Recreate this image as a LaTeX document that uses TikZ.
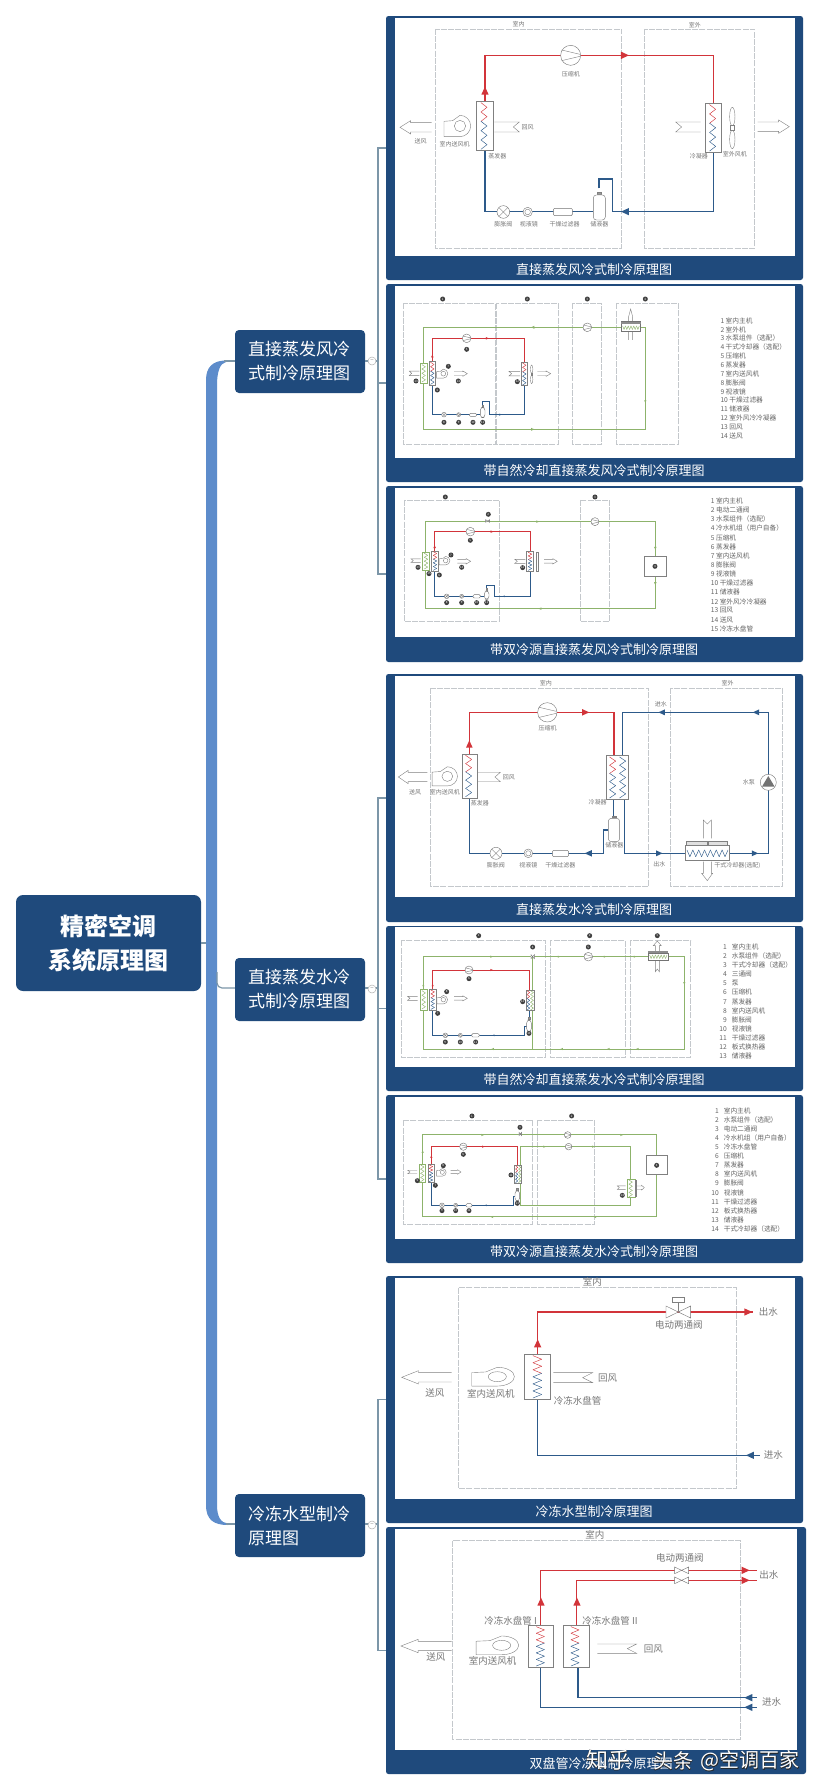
\documentclass[tikz,border=0pt]{standalone}
\usepackage{fontspec}
\setmainfont{Noto Sans CJK SC}
\newfontfamily\wmfat[FakeBold=2.5]{Noto Sans CJK SC}
\definecolor{navy}{HTML}{1F4A7C}
\definecolor{spine}{HTML}{5D8CCB}
\definecolor{twig}{HTML}{7C96A8}
\definecolor{redp}{HTML}{D2343A}
\definecolor{bluep}{HTML}{2D5A8A}
\definecolor{greenp}{HTML}{8DB36B}
\definecolor{txt}{HTML}{777777}
\definecolor{dsh}{HTML}{C4C8CC}
\newcounter{lb}
\tikzset{
  panelbox/.style={fill=navy,rounded corners=2.5pt,inner sep=0pt},
  rootbox/.style={fill=navy,rounded corners=7pt,text=white,align=center,inner sep=0pt,minimum width=185pt,minimum height=96pt,font=\fontsize{24}{34}\selectfont\bfseries},
  branchbox/.style={fill=navy,rounded corners=4pt,text=white,align=left,inner sep=0pt,minimum width=130pt,minimum height=63pt,text width=104pt,font=\fontsize{17}{24}\selectfont},
  twigline/.style={draw=twig,line width=1.2pt},
  titletext/.style={text=white,inner sep=0pt,font=\fontsize{13}{13}\selectfont},
  dashbox/.style={draw=dsh,line width=.6pt,dash pattern=on 6pt off 1.2pt},
  grayl/.style={draw=black!50,line width=.4pt},
  compo/.style={draw=black!55,line width=.4pt,fill=white},
  lbltext/.style={text=txt,inner sep=0pt,font=\fontsize{6}{6}\selectfont},
  lglbl/.style={text=txt,inner sep=0pt,font=\fontsize{9.5}{9.5}\selectfont},
  legtext/.style={text=txt!85!black,inner sep=0pt,anchor=west,font=\fontsize{6.7}{6.7}\selectfont},
  numdot/.style={circle,fill=black!75,text=white,inner sep=0pt,minimum size=5pt,font=\fontsize{3}{3}\selectfont},
  pipeR/.style={draw=redp,line width=#1},
  pipeB/.style={draw=bluep,line width=#1},
  pipeG/.style={draw=greenp,line width=#1},
  collapse/.style={circle,draw=black!30,fill=white,line width=.5pt,inner sep=0pt,minimum size=8pt,font=\fontsize{6}{6}\selectfont,text=black!50},
}
\newcommand\lbl[3]{\stepcounter{lb}\node[lbltext] (l\arabic{lb}) at (#1,#2) {#3};}
\newcommand\lgl[3]{\stepcounter{lb}\node[lglbl] (l\arabic{lb}) at (#1,#2) {#3};}
\newcommand\nm[3]{\stepcounter{lb}\node[numdot] (l\arabic{lb}) at (#1,#2) {#3};}
\newcommand\tri[5]{\begin{scope}[shift={(#1,#2)},rotate=#3,scale=#5]\fill[#4] (12,0)--(-12,-11)--(-12,11)--cycle;\end{scope}}
\newcommand\zig[7]{%
  \pgfmathsetmacro\dy{(#3-#2)/(2*#5)}%
  \pgfmathtruncatemacro\nn{2*#5}%
  \foreach \i in {1,...,\nn}{%
    \pgfmathsetmacro\ya{#2+(\i-1)*\dy}%
    \pgfmathsetmacro\yb{#2+\i*\dy}%
    \pgfmathsetmacro\xa{#1+#4*cos(180*\i)}%
    \pgfmathsetmacro\xb{#1-#4*cos(180*\i)}%
    \pgfmathtruncatemacro\tp{\i<=0.45*\nn?1:0}%
    \ifnum\tp=1 \def\cc{#6}\else\def\cc{#7}\fi
    \draw[color=\cc,line width=.45pt,line cap=round] (\xa,\ya)--(\xb,\yb);
  }}
\newcommand\hzig[6]{%
  \pgfmathsetmacro\dy{(#3-#2)/(2*#5)}%
  \pgfmathtruncatemacro\nn{2*#5}%
  \foreach \i in {1,...,\nn}{%
    \pgfmathsetmacro\ya{#2+(\i-1)*\dy}%
    \pgfmathsetmacro\yb{#2+\i*\dy}%
    \pgfmathsetmacro\xa{#1+#4*cos(180*\i)}%
    \pgfmathsetmacro\xb{#1-#4*cos(180*\i)}%
    \draw[color=#6,line width=.45pt,line cap=round] (\ya,\xa)--(\yb,\xb);
  }}
\newcommand\blower[4]{\begin{scope}[shift={(#1,#2)},xscale=#3,yscale=#4]
  \draw[grayl,fill=white] (-48,-14)--(-48,32)--(0,32) arc[start angle=90,end angle=-90,radius=32]--(-22,-16)--cycle;
  \draw[grayl] (0,0) circle[radius=17];\end{scope}}
\newcommand\airA[4]{\begin{scope}[shift={(#1,#2)},xscale=#3,yscale=#4]
  \draw[grayl] (95,-14)--(32,-14)--(32,-20)--(0,0)--(32,20)--(32,14)--(95,14);\end{scope}}
\newcommand\airT[4]{\begin{scope}[shift={(#1,#2)},xscale=#3,yscale=#4]
  \draw[grayl] (-57,-15)--(18,-15)--(0,0)--(18,15)--(-57,15);\end{scope}}
\newcommand\comp[3]{\draw[compo] (#1,#2) circle[radius=#3];
  \begin{scope}[shift={(#1,#2)},scale=#3/30]\draw[grayl] (-27,-16)--(28,-3) (-27,16)--(28,3);\end{scope}}
\newcommand\expv[3]{\draw[compo] (#1,#2) circle[radius=#3];
  \begin{scope}[shift={(#1,#2)},scale=#3/19]\draw[grayl] (-13,-13)--(13,13) (-13,13)--(13,-13);\end{scope}}
\newcommand\sight[3]{\draw[compo] (#1,#2) circle[radius=#3];\draw[grayl] (#1,#2) circle[radius=#3*.6];}
\newcommand\filt[4]{\draw[compo,rounded corners=1.2pt] (#1,#3) rectangle (#2,#4);}
\newcommand\tank[4]{\draw[grayl] (#1,#2-8)--(#1,#2);\draw[grayl,fill=black!40] (#1-#4*.35,#2-7) rectangle (#1+#4*.35,#2-2);
  \draw[compo,rounded corners=3pt] (#1-#4,#2) rectangle (#1+#4,#3);}
\newcommand\cbox[4]{\draw[grayl,fill=white] (#1,#2) rectangle (#3,#4);}
\newcommand\cboxG[4]{\draw[draw=greenp,line width=.4pt,fill=white] (#1,#2) rectangle (#3,#4);}
\newcommand\btie[4]{\draw[compo] (#1-#3,#2-#4)--(#1+#3,#2+#4)--(#1+#3,#2-#4)--(#1-#3,#2+#4)--cycle;}
\newcommand\ofan[3]{\begin{scope}[shift={(#1,#2)},scale=#3]
  \draw[grayl] (0,-34) ellipse[x radius=8,y radius=28];\draw[grayl] (0,34) ellipse[x radius=8,y radius=28];
  \draw[grayl,fill=white] (-6,-7) rectangle (6,7);\end{scope}}
\newcommand\lgdA[4]{\foreach \t [count=\c] in {#4}{\pgfmathsetmacro\yy{#2+(\c-1)*#3}\stepcounter{lb}
  \node[legtext] (l\arabic{lb}) at (#1,\yy) {\c\ \t};}}
\newcommand\lgdB[4]{\foreach \t [count=\c] in {#4}{\pgfmathsetmacro\yy{#2+(\c-1)*#3}\stepcounter{lb}
  \node[legtext] (l\arabic{lb}) at (#1,\yy) {\makebox[7pt][r]{\c}\hspace{5pt}\t};}}
\newcommand\wm[4]{\stepcounter{lb}\node[inner sep=0pt,text=black!85,font=\wmfat\fontsize{#3}{#3}\selectfont] (l\arabic{lb}) at (#1,#2) {#4};}
\newcommand\wmw[4]{\stepcounter{lb}\node[inner sep=0pt,text=white,font=\fontsize{#3}{#3}\selectfont] (l\arabic{lb}) at (#1,#2) {#4};}
\begin{document}
\begin{tikzpicture}[x=1pt,y=-1pt]
\useasboundingbox[fill=white] (0,0) rectangle (822,1791);
% spine
\fill[spine] (206,380) .. controls (206,367) and (213,360.5) .. (226,360.5)
  -- (226,362) .. controls (220,363) and (217,372) .. (217,385)
  -- (217,1505) .. controls (217,1517) and (221,1523) .. (228,1523.5)
  -- (228,1525) .. controls (214,1525) and (206,1520) .. (206,1505) -- cycle;
% panels
\node[panelbox,minimum width=417pt,minimum height=264pt] (p1) at (594.5,148) {};
\node[panelbox,minimum width=417pt,minimum height=198pt] (p2) at (594.5,383) {};
\node[panelbox,minimum width=417pt,minimum height=176pt] (p3) at (594.5,574) {};
\node[panelbox,minimum width=417pt,minimum height=248pt] (p4) at (594.5,798) {};
\node[panelbox,minimum width=417pt,minimum height=165pt] (p5) at (594.5,1008.5) {};
\node[panelbox,minimum width=417pt,minimum height=168pt] (p6) at (594.5,1179) {};
\node[panelbox,minimum width=417pt,minimum height=247pt] (p7) at (594.5,1399.5) {};
\node[panelbox,minimum width=420pt,minimum height=247pt] (p8) at (596,1650.5) {};
\fill[white] (395,18) rectangle (795,256);
\fill[white] (395,286) rectangle (795,458);
\fill[white] (395,488) rectangle (795,637);
\fill[white] (395,676) rectangle (795,897);
\fill[white] (395,927) rectangle (795,1067);
\fill[white] (395,1097) rectangle (795,1239);
\fill[white] (395,1278) rectangle (795,1499);
\fill[white] (395,1529) rectangle (797,1750);
\node[titletext] (t1) at (594,270) {直接蒸发风冷式制冷原理图};
\node[titletext] (t2) at (594,471) {带自然冷却直接蒸发风冷式制冷原理图};
\node[titletext] (t3) at (594,650) {带双冷源直接蒸发风冷式制冷原理图};
\node[titletext] (t4) at (594,910) {直接蒸发水冷式制冷原理图};
\node[titletext] (t5) at (594,1080) {带自然冷却直接蒸发水冷式制冷原理图};
\node[titletext] (t6) at (594,1252) {带双冷源直接蒸发水冷式制冷原理图};
\node[titletext] (t7) at (594,1512) {冷冻水型制冷原理图};
\node[titletext] (t8) at (601,1763) {双盘管冷冻水制冷原理图};
% mind map nodes
\node[rootbox] (root) at (108.5,943) {精密空调\\系统原理图};
\node[branchbox] (b1) at (300,361.5) {直接蒸发风冷\\式制冷原理图};
\node[branchbox] (b2) at (300,989.5) {直接蒸发水冷\\式制冷原理图};
\node[branchbox] (b3) at (300,1525.5) {冷冻水型制冷\\原理图};
\coordinate (k1) at (378,361);\coordinate (k2) at (378,988);\coordinate (k3) at (378,1524);
\coordinate (s1) at (224,361);\coordinate (s2) at (217,972);\coordinate (s3) at (226,1524);\coordinate (s0) at (206,943);
\draw[twigline] (root.east) -- (s0);
\draw[twigline] (s1) -- (s1 -| b1.west);
\draw[twigline,rounded corners=5pt] (s2) |- (k2 -| b2.west);
\draw[twigline] (s3) -- (s3 -| b3.west);
\foreach \b/\k/\u/\v/\w in {b1/k1/p1/p2/p3,b2/k2/p4/p5/p6}{
  \draw[twigline] (\u.west) -| (\k);
  \draw[twigline] (\w.west) -| (\k);
  \draw[twigline] (\v.west) -- (\v.west -| \k);
  \draw[twigline] (\b.east |- \k) -- (\k);
}
\draw[twigline] (p7.west) -| (k3);\draw[twigline] (p8.west) -| (k3);\draw[twigline] (b3.east |- k3) -- (k3);
\node[collapse] (c1) at (372,361) {−};
\node[collapse] (c2) at (372,989) {−};
\node[collapse] (c3) at (372,1525) {−};

% ---------- panel 1
\begin{scope}[shift={(380,0)},x=0.3333pt,y=-0.3333pt]
\draw[dashbox] (166,87) rectangle (724,745);\draw[dashbox] (793,87) rectangle (1123,745);
\lbl{416}{72}{室内}\lbl{945}{75}{室外}
\draw[pipeR=1.5pt] (315,304)--(315,166)--(1000,166)--(1000,310);
\draw[pipeB=1.2pt] (315,452)--(315,635)--(640,635);
\draw[pipeB=1.2pt] (657,565)--(657,537)--(697,537)--(697,635)--(1000,635)--(1000,455);
\tri{735}{166}{0}{redp}{1}\tri{315}{272}{90}{redp}{1}\tri{735}{635}{180}{bluep}{1}
\comp{572}{166}{30}
\cbox{290}{304}{340}{452}\zig{312}{308}{448}{9}{5}{redp}{bluep}
\cbox{977}{310}{1025}{457}\zig{998}{314}{453}{9}{5}{redp}{bluep}
\blower{240}{378}{1}{1}
\airA{60}{382}{1}{1}\airT{400}{381}{1}{1}\airT{905}{381}{-1}{1}\airA{1228}{380}{-1}{1}
\ofan{1057}{384}{1}
\expv{370}{636}{19}\sight{443}{636}{14}\filt{520}{577}{625}{647}\tank{658}{585}{660}{18}
\lbl{122}{424}{送风}\lbl{224}{432}{室内送风机}\lbl{443}{383}{回风}\lbl{352}{468}{蒸发器}\lbl{573}{222}{压缩机}
\lbl{370}{672}{膨胀阀}\lbl{447}{672}{视液镜}\lbl{554}{672}{干燥过滤器}\lbl{658}{672}{储液器}\lbl{957}{469}{冷凝器}\lbl{1065}{462}{室外风机}
\end{scope}

% ---------- panels 2,3
\begin{scope}[shift={(380,285)},x=0.3333pt,y=-0.3333pt]
\draw[dashbox] (70,55) rectangle (345,478);\draw[dashbox] (348,55) rectangle (535,478);
\draw[dashbox] (577,55) rectangle (665,478);\draw[dashbox] (708,55) rectangle (895,478);
\draw[pipeG=.5pt] (131,127)--(796,127)--(796,433)--(131,433)--cycle;
\tri{458}{127}{180}{greenp}{.4}\tri{458}{433}{0}{greenp}{.4}\tri{796}{350}{-90}{greenp}{.3}
\draw[grayl] (746,165)--(746,95)--(752,72)--(758,95)--(758,165);
\draw[compo] (724,110) rectangle (782,140);\fill[black!45] (724,110) rectangle (782,118);\hzig{128}{728}{778}{5}{6}{greenp}
\comp{622}{127}{13}
\draw[pipeR=.8pt] (157,230)--(157,160)--(433,160)--(433,232);
\draw[pipeB=.8pt] (157,300)--(157,389)--(300,389);
\draw[pipeB=.8pt] (307,360)--(307,350)--(327,350)--(327,389)--(433,389)--(433,300);
\tri{322}{160}{0}{redp}{.35}\tri{157}{213}{90}{redp}{.35}\tri{357}{389}{180}{bluep}{.3}
\comp{260}{160}{13}
\cboxG{121}{235}{142}{295}\zig{131}{239}{291}{5}{4}{greenp}{greenp}
\cbox{147}{230}{166}{300}\zig{157}{232}{298}{5}{5}{redp}{bluep}
\cbox{424}{232}{443}{302}\zig{433}{234}{300}{5}{5}{redp}{bluep}
\blower{190}{266}{.42}{.42}\ofan{455}{268}{.45}
\airT{95}{265}{-.4}{.45}\airA{262}{266}{-.42}{.4}\airT{395}{266}{-.45}{.45}\airA{512}{266}{-.42}{.4}
\expv{192}{389}{7}\sight{236}{389}{6}\filt{268}{290}{385}{394}\tank{308}{367}{398}{7}
\nm{188}{42}{1}\nm{442}{42}{2}\nm{622}{42}{3}\nm{796}{42}{4}
\nm{260}{193}{5}\nm{172}{315}{6}\nm{205}{244}{7}\nm{192}{412}{8}\nm{236}{412}{9}\nm{279}{412}{10}\nm{308}{412}{11}\nm{412}{290}{12}\nm{108}{288}{13}\nm{235}{288}{14}
\lgdA{1021}{107}{26.6}{室内主机,室外机,水泵组件（选配）,干式冷却器（选配）,压缩机,蒸发器,室内送风机,膨胀阀,视液镜,干燥过滤器,储液器,室外风冷冷凝器,回风,送风}
% panel 3
\draw[dashbox] (73,645) rectangle (358,1010);\draw[dashbox] (601,645) rectangle (688,1010);
\draw[pipeG=.9pt] (136,710)--(826,710)--(826,971)--(136,971)--cycle;
\tri{473}{710}{0}{greenp}{.35}\tri{480}{971}{180}{greenp}{.35}\tri{826}{790}{-90}{greenp}{.35}\tri{826}{896}{-90}{greenp}{.35}
\comp{645}{710}{12}\btie{323}{708}{6}{4}
\cbox{793}{814}{859}{875}
\draw[pipeR=.8pt] (164,800)--(164,740)--(450,740)--(450,800);
\draw[pipeB=.8pt] (164,855)--(164,934)--(312,934);
\draw[pipeB=.8pt] (320,910)--(320,900)--(343,900)--(343,934)--(450,934)--(450,858);
\tri{336}{740}{0}{redp}{.35}\tri{164}{785}{90}{redp}{.35}\tri{371}{934}{180}{bluep}{.25}
\comp{271}{740}{13}
\cboxG{128}{802}{148}{855}\zig{138}{805}{852}{5}{4}{greenp}{greenp}
\cbox{155}{798}{175}{858}\zig{165}{800}{856}{5}{5}{redp}{bluep}
\cbox{440}{800}{460}{858}\zig{450}{802}{856}{5}{5}{redp}{bluep}
\draw[grayl] (468,803) rectangle (474,858);
\blower{197}{827}{.4}{.4}
\airT{100}{827}{-.38}{.35}\airA{272}{829}{-.42}{.4}\airT{412}{829}{-.42}{.4}\airA{532}{829}{-.42}{.4}
\expv{200}{934}{7}\sight{245}{934}{6}\filt{279}{301}{929}{939}\tank{320}{918}{943}{7}
\nm{196}{636}{1}\nm{325}{688}{2}\nm{645}{636}{3}\nm{825}{844}{4}\nm{271}{766}{5}\nm{178}{870}{6}\nm{213}{810}{7}\nm{200}{953}{8}\nm{245}{953}{9}\nm{290}{953}{10}\nm{320}{953}{11}\nm{428}{848}{12}\nm{114}{847}{13}\nm{245}{847}{14}\nm{147}{866}{15}
\lgdA{992}{648}{27.4}{室内主机,电动二通阀,水泵组件（选配）,冷水机组（用户自备）,压缩机,蒸发器,室内送风机,膨胀阀,视液镜,干燥过滤器,储液器,室外风冷冷凝器,回风,送风,冷冻水盘管}
\end{scope}

% ---------- panel 4
\begin{scope}[shift={(380,670)},x=0.3333pt,y=-0.3333pt]
\draw[dashbox] (151,54) rectangle (805,650);\draw[dashbox] (871,54) rectangle (1208,650);
\lbl{498}{40}{室内}\lbl{1043}{40}{室外}
\draw[pipeR=1.6pt] (268,252)--(268,127)--(702,127)--(702,258);
\draw[pipeB=1.4pt] (268,384)--(268,550)--(670,550)--(670,480)--(685,480);
\draw[pipeB=1.6pt] (700,388)--(700,445);
\draw[pipeB=1.4pt] (728,258)--(728,127)--(1165,127)--(1165,550)--(1048,550);
\draw[pipeB=1.4pt] (917,550)--(733,550)--(733,388);
\tri{617}{127}{0}{redp}{.9}\tri{268}{222}{90}{redp}{.9}\tri{625}{550}{180}{bluep}{.9}
\tri{845}{127}{180}{bluep}{.8}\tri{1128}{127}{180}{bluep}{.8}\tri{838}{550}{0}{bluep}{.8}\tri{1125}{550}{0}{bluep}{.8}
\comp{502}{127}{29}
\cbox{248}{252}{291}{384}\zig{266}{256}{380}{9}{5}{redp}{bluep}
\cbox{680}{257}{746}{388}\zig{698}{261}{384}{9}{5}{redp}{bluep}\zig{728}{261}{384}{9}{5}{bluep}{bluep}
\blower{202}{319}{.95}{.9}\airA{55}{321}{.92}{1}\airT{345}{321}{.9}{.95}
\expv{348}{550}{18}\sight{445}{550}{13}\filt{517}{566}{541}{560}\tank{702}{445}{515}{17}
\draw[compo] (1165,337) circle[radius=24];\fill[black!55] (1165,318)--(1184,350)--(1146,350)--cycle;
\draw[grayl,fill=white] (917,527) rectangle (1048,571);\hzig{550}{921}{1044}{10}{7}{bluep}
\draw[grayl,fill=black!12] (920,513) rectangle (981,527);\draw[grayl,fill=black!12] (984,513) rectangle (1043,527);
\draw[grayl] (970,505)--(970,450)--(982,462)--(994,450)--(994,505);
\draw[grayl] (970,575)--(970,610)--(965,610)--(982,632)--(998,610)--(994,610)--(994,575);
\lbl{105}{366}{送风}\lbl{195}{366}{室内送风机}\lbl{387}{321}{回风}\lbl{300}{400}{蒸发器}\lbl{503}{174}{压缩机}
\lbl{348}{587}{膨胀阀}\lbl{445}{587}{视液镜}\lbl{541}{587}{干燥过滤器}\lbl{703}{527}{储液器}\lbl{653}{398}{冷凝器}
\lbl{843}{104}{进水}\lbl{838}{584}{出水}\lbl{1107}{338}{水泵}\lbl{1072}{588}{干式冷却器(选配)}
\end{scope}

% ---------- panels 5,6
\begin{scope}[shift={(380,925)},x=0.3333pt,y=-0.3333pt]
\draw[dashbox] (65,46) rectangle (497,397);\draw[dashbox] (512,46) rectangle (736,397);\draw[dashbox] (752,46) rectangle (932,397);
\draw[pipeG=.5pt] (458,95)--(130,95)--(130,373)--(458,373);
\draw[pipeG=1pt] (458,95)--(915,95)--(915,372)--(458,372)--cycle;
\foreach \p in {335,537,675,765}{\tri{\p}{95}{0}{greenp}{.3}}
\foreach \p in {338,545,685,772}{\tri{\p}{372}{180}{greenp}{.3}}
\tri{913}{175}{-90}{greenp}{.3}\tri{130}{180}{90}{greenp}{.3}
\draw[grayl] (826,78)--(826,62)--(820,62)--(832,48)--(844,62)--(838,62)--(838,78);
\draw[grayl] (826,105)--(826,140)--(832,132)--(838,140)--(838,105);
\draw[compo] (805,85) rectangle (865,105);\fill[black!45] (805,78) rectangle (865,85);\hzig{95}{809}{861}{5}{6}{greenp}
\comp{625}{95}{13}\btie{458}{95}{5}{6}
\draw[pipeR=.8pt] (158,195)--(158,135)--(447,135)--(447,195);
\draw[pipeB=.8pt] (158,255)--(158,331)--(432,331)--(432,305)--(440,305);
\draw[pipeB=.8pt] (447,257)--(447,285);
\tri{335}{135}{0}{redp}{.3}\tri{158}{180}{90}{redp}{.3}\tri{340}{331}{180}{bluep}{.25}
\comp{267}{135}{12}
\cboxG{121}{193}{142}{255}\zig{131}{197}{252}{5}{4}{greenp}{greenp}
\cbox{149}{193}{168}{255}\zig{158}{195}{253}{5}{5}{redp}{bluep}
\cbox{438}{195}{463}{257}\zig{445}{197}{255}{4}{5}{redp}{bluep}\zig{456}{197}{255}{4}{5}{greenp}{greenp}
\blower{190}{224}{.4}{.4}\airT{90}{220}{-.4}{.4}\airA{262}{220}{-.42}{.38}
\expv{196}{331}{7}\sight{241}{331}{6}\filt{275}{298}{326}{336}\tank{447}{285}{320}{7}
\nm{296}{32}{1}\nm{629}{32}{2}\nm{832}{32}{3}\nm{458}{66}{4}\nm{625}{66}{5}\nm{267}{161}{6}\nm{173}{265}{7}\nm{200}{200}{8}\nm{196}{351}{9}\nm{241}{351}{10}\nm{287}{351}{11}\nm{428}{230}{12}\nm{447}{325}{13}
\lgdB{1019}{66}{27.25}{室内主机,水泵组件（选配）,干式冷却器（选配）,三通阀,泵,压缩机,蒸发器,室内送风机,膨胀阀,视液镜,干燥过滤器,板式换热器,储液器}
% panel 6
\draw[dashbox] (70,586) rectangle (458,898);\draw[dashbox] (472,586) rectangle (643,898);
\draw[pipeG=1pt] (128,630)--(830,630)--(830,876)--(128,876)--cycle;
\draw[pipeG=1pt] (421,665)--(752,665)--(752,842)--(421,842)--cycle;
\tri{308}{630}{0}{greenp}{.3}\tri{725}{630}{0}{greenp}{.3}\tri{494}{665}{0}{greenp}{.3}\tri{640}{665}{0}{greenp}{.3}\tri{336}{876}{180}{greenp}{.3}\tri{645}{876}{180}{greenp}{.3}\tri{128}{680}{90}{greenp}{.3}
\comp{563}{630}{10}\comp{566}{665}{10}\btie{421}{627}{4}{5}
\cbox{799}{691}{862}{748}
\draw[pipeR=.8pt] (154,720)--(154,665)--(413,665)--(413,720);
\draw[pipeB=.8pt] (154,775)--(154,841)--(400,841)--(400,815)--(406,815);
\tri{310}{665}{0}{redp}{.3}\tri{154}{695}{90}{redp}{.3}\tri{317}{841}{180}{bluep}{.25}
\comp{250}{665}{11}
\cboxG{117}{718}{137}{772}\zig{127}{720}{770}{5}{4}{greenp}{greenp}
\cbox{145}{718}{162}{772}\zig{153}{720}{770}{5}{5}{redp}{bluep}
\cbox{403}{720}{425}{775}\zig{410}{722}{773}{3}{5}{redp}{bluep}\zig{419}{722}{773}{3}{5}{greenp}{greenp}
\cboxG{741}{762}{765}{818}\zig{752}{765}{815}{5}{4}{greenp}{greenp}
\draw[grayl,fill=black!40] (765,765) rectangle (769,815);
\blower{187}{742}{.36}{.36}\airT{90}{741}{-.38}{.35}\airA{243}{741}{-.33}{.35}
\airT{718}{788}{-.33}{.35}\airA{793}{788}{-.25}{.35}
\expv{186}{841}{7}\sight{227}{841}{6}\filt{258}{276}{836}{846}\tank{412}{797}{828}{7}
\nm{276}{573}{1}\nm{575}{573}{2}\nm{420}{607}{3}\nm{830}{721}{4}\nm{112}{767}{5}\nm{250}{688}{6}\nm{166}{781}{7}\nm{190}{722}{8}\nm{186}{857}{9}\nm{227}{857}{10}\nm{267}{857}{11}\nm{393}{750}{12}\nm{412}{835}{13}\nm{727}{811}{14}
\lgdB{995}{557}{27.3}{室内主机,水泵组件（选配）,电动二通阀,冷水机组（用户自备）,冷冻水盘管,压缩机,蒸发器,室内送风机,膨胀阀,视液镜,干燥过滤器,板式换热器,储液器,干式冷却器（选配）}
\end{scope}

% ---------- panel 7
\begin{scope}[shift={(380,1275)},x=0.3333pt,y=-0.3333pt]
\draw[dashbox] (235,38) rectangle (1069,640);
\lgl{637}{22}{室内}
\draw[pipeR=1.5pt] (472,238)--(472,111)--(1118,111);
\draw[pipeB=1.2pt] (472,372)--(472,541)--(1140,541);
\tri{473}{205}{90}{redp}{1}\tri{1105}{111}{0}{redp}{1}\tri{1110}{541}{180}{bluep}{1}
\draw[grayl] (895,111)--(895,82);\draw[grayl,fill=white] (877,68) rectangle (913,82);
\btie{895}{111}{37}{18}
\cbox{433}{238}{511}{373}\zig{472}{242}{369}{13}{6}{redp}{bluep}
\blower{352}{305}{1.6}{.88}
\airA{65}{307}{1.58}{1}\draw[grayl] (520,293)--(638,293)--(608,308)--(638,323)--(520,323);
\lgl{165}{355}{送风}\lgl{333}{356}{室内送风机}\lgl{683}{308}{回风}\lgl{593}{378}{冷冻水盘管}\lgl{897}{150}{电动两通阀}\lgl{1165}{111}{出水}\lgl{1180}{541}{进水}
\end{scope}

% ---------- panel 8
\begin{scope}[shift={(380,1530)},x=0.3333pt,y=-0.3333pt]
\draw[dashbox] (218,32) rectangle (1081,628);
\lgl{645}{15}{室内}
\draw[pipeR=1.5pt] (481,288)--(481,121)--(1130,121);
\draw[pipeR=1.5pt] (589,288)--(589,151)--(1130,151);
\draw[pipeB=1.2pt] (481,412)--(481,532)--(1130,532);
\draw[pipeB=1.2pt] (594,412)--(594,503)--(1130,503);
\tri{483}{215}{90}{redp}{1}\tri{591}{215}{90}{redp}{1}\tri{1097}{121}{0}{redp}{1}\tri{1097}{151}{0}{redp}{1}
\tri{1105}{532}{180}{bluep}{1}\tri{1105}{503}{180}{bluep}{1}
\btie{905}{121}{21}{10}\btie{905}{151}{21}{10}
\cbox{445}{287}{521}{412}\zig{481}{290}{408}{12}{6}{redp}{bluep}
\cbox{551}{287}{629}{412}\zig{585}{290}{408}{12}{6}{redp}{bluep}
\blower{365}{346}{1.6}{.88}
\airA{63}{348}{1.6}{1}\draw[grayl] (652,342)--(770,342)--(742,356)--(770,370)--(652,370);
\lgl{900}{85}{电动两通阀}\lgl{1167}{136}{出水}\lgl{1175}{517}{进水}\lgl{392}{272}{冷冻水盘管 I}\lgl{690}{272}{冷冻水盘管 II}\lgl{338}{392}{室内送风机}\lgl{168}{380}{送风}\lgl{820}{356}{回风}
\end{scope}
% watermark
\wm{608}{1760}{22}{知乎}\wmw{608}{1760}{22}{知乎}
\wm{673}{1761}{20}{头条}\wmw{673}{1761}{20}{头条}
\wm{750}{1761}{20}{@空调百家}\wmw{750}{1761}{20}{@空调百家}
\end{tikzpicture}
\end{document}
